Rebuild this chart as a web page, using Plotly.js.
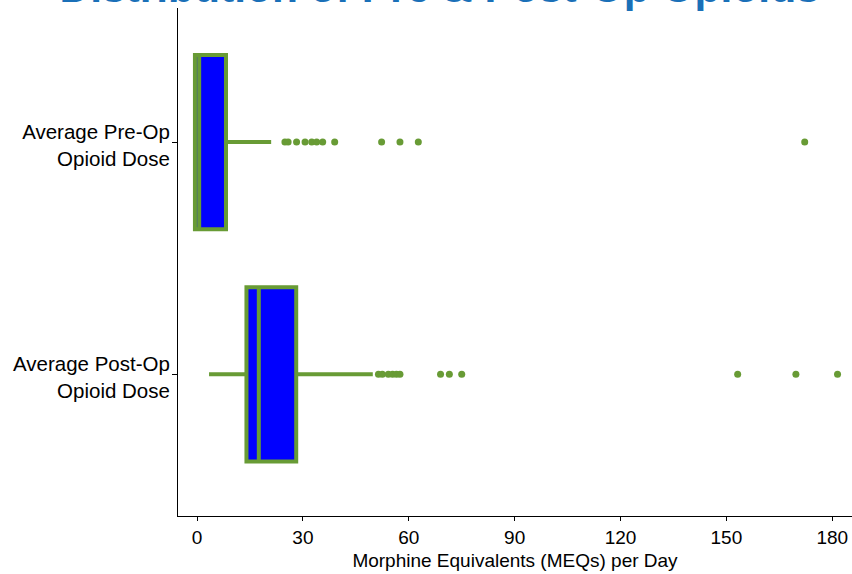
<!DOCTYPE html>
<html>
<head>
<meta charset="utf-8">
<script src="https://cdn.plot.ly/plotly-3.0.1.min.js"></script>
<style>html,body{margin:0;padding:0;background:#fff;}#chart{width:852px;height:574px;}</style>
</head>
<body>
<div id="chart"></div>
<script>
// Categories (bottom to top)
var categories = ['Average Post-Op<br>Opioid Dose', 'Average Pre-Op<br>Opioid Dose'];

// Box statistics (MEQs per day), in the same order as categories
var q1Values = [14.0, -0.6];
var medianValues = [17.5, 0.6];
var q3Values = [28.1, 8.2];
var lowerFences = [3.4, -0.6];
var upperFences = [49.8, 21.0];

// Outliers
var preOpOutliers = [24.9, 25.8, 28.2, 30.6, 32.5, 33.9, 35.6, 39.0, 52.3, 57.5, 62.7, 172.2];
var postOpOutliers = [51.4, 52.5, 54.2, 55.4, 56.5, 57.5, 69.0, 71.5, 75.0, 153.2, 169.7, 181.5];

var xTickValues = [0, 30, 60, 90, 120, 150, 180];

var green = '#689b35';
var blue = '#0000ff';

var outX = [], outY = [];
postOpOutliers.forEach(function(v){ outX.push(v); outY.push(categories[0]); });
preOpOutliers.forEach(function(v){ outX.push(v); outY.push(categories[1]); });

var traces = [
  {
    type: 'box',
    orientation: 'h',
    y: categories,
    q1: q1Values,
    median: medianValues,
    q3: q3Values,
    lowerfence: lowerFences,
    upperfence: upperFences,
    fillcolor: blue,
    line: {color: green, width: 4},
    whiskerwidth: 0,
    boxpoints: false,
    hoverinfo: 'x',
    showlegend: false
  },
  {
    type: 'scatter',
    mode: 'markers',
    x: outX,
    y: outY,
    marker: {color: green, size: 7},
    showlegend: false,
    hoverinfo: 'x'
  }
];

var layout = {
  width: 852,
  height: 574,
  margin: {l: 178, r: 0, t: 8, b: 58},
  paper_bgcolor: '#ffffff',
  plot_bgcolor: '#ffffff',
  font: {family: 'Liberation Sans, Arial, sans-serif', color: '#000000'},
  boxgap: 0.25,
  boxgroupgap: 0,
  title: {
    text: '<b>Distribution of Pre & Post-Op Opioids</b>',
    font: {family: 'Liberation Sans, Arial, sans-serif', size: 42.5, color: '#1a70b8'},
    xref: 'container', x: 0.516, xanchor: 'center',
    yref: 'container', y: 0.9965, yanchor: 'bottom'
  },
  xaxis: {
    range: [-5.4, 185.6],
    tickvals: xTickValues,
    ticktext: xTickValues.map(String),
    showline: true, linecolor: '#000000', linewidth: 1,
    ticks: 'outside', ticklen: 4, tickcolor: '#000000',
    showgrid: false, zeroline: false,
    tickfont: {size: 19, color: '#000000'},
    title: {text: 'Morphine Equivalents (MEQs) per Day', font: {size: 19, color: '#000000'}, standoff: 6}
  },
  yaxis: {
    type: 'category',
    categoryorder: 'array',
    categoryarray: categories,
    range: [-0.61, 1.577],
    showline: true, linecolor: '#000000', linewidth: 1,
    ticks: 'outside', ticklen: 5, tickcolor: '#000000',
    showgrid: false, zeroline: false,
    ticklabelshift: 3,
    ticklabelstandoff: -2,
    tickfont: {size: 20.5, color: '#000000'}
  }
};

Plotly.newPlot('chart', traces, layout, {displayModeBar: false, staticPlot: true});
</script>
</body>
</html>
